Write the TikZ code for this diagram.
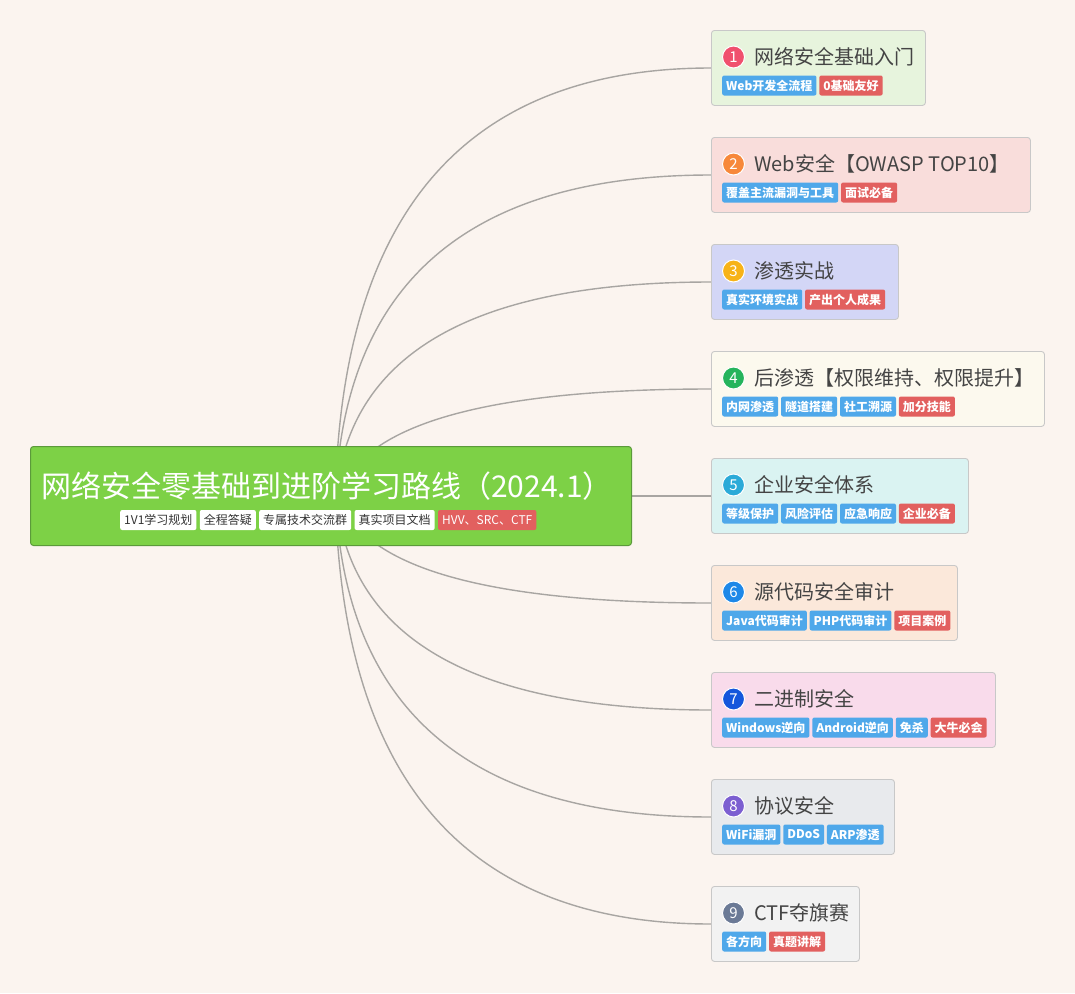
\documentclass[tikz,border=0pt]{standalone}
\usepackage{fontspec}
\setmainfont{Noto Sans CJK SC}
\usetikzlibrary{backgrounds,calc}
\pgfdeclarelayer{edges}
\pgfsetlayers{background,edges,main}
\definecolor{bgc}{HTML}{FBF4EF}
\definecolor{boxline}{HTML}{C8C8C8}
\definecolor{linec}{HTML}{A8A5A2}
\definecolor{tagblue}{HTML}{4FA8EA}
\definecolor{tagred}{HTML}{E2605F}
\definecolor{titlec}{HTML}{444444}
\definecolor{rootfill}{HTML}{7DD146}
\definecolor{rootline}{HTML}{5B9A3A}
\definecolor{fa}{HTML}{E7F4DD}\definecolor{ca}{HTML}{F0506E}
\definecolor{fb}{HTML}{F9DDDB}\definecolor{cb}{HTML}{F7883A}
\definecolor{fc}{HTML}{D3D6F6}\definecolor{cc}{HTML}{F7B318}
\definecolor{fd}{HTML}{FCF9EE}\definecolor{cd}{HTML}{25B45C}
\definecolor{fe}{HTML}{DAF3F2}\definecolor{ce}{HTML}{2BAAD8}
\definecolor{ff}{HTML}{FBE8DA}\definecolor{cf}{HTML}{1E88E8}
\definecolor{fg}{HTML}{F9DBEB}\definecolor{cg}{HTML}{1457DC}
\definecolor{fh}{HTML}{E8EAED}\definecolor{ch}{HTML}{7C5FD1}
\definecolor{fi}{HTML}{F2F2F2}\definecolor{ci}{HTML}{6B7A96}
\tikzset{
  box/.style={draw=boxline, rounded corners=3pt, line width=0.9pt, anchor=north west, inner sep=0, minimum height=75pt},
  num/.style={circle, draw=white, line width=1pt, minimum size=22pt, inner sep=0, text=white, font=\fontsize{15}{15}\selectfont},
  ttl/.style={anchor=west, text=titlec, font=\fontsize{20}{20}\selectfont, inner sep=0},
  btag/.style={fill=tagblue, text=white, rounded corners=2pt, anchor=west, inner xsep=4pt, inner ysep=0, minimum height=20pt, font=\bfseries\fontsize{12}{12}\selectfont},
  rtag/.style={btag, fill=tagred},
  wtag/.style={fill=white, text=black!80, rounded corners=2pt, anchor=west, inner xsep=4pt, inner ysep=0, minimum height=20pt, font=\fontsize{12}{12}\selectfont},
  link/.style={draw=linec, line width=1.4pt},
}
% #1 index, #2 top y, #3 width, #4 fill, #5 circle colour, #6 title, #7 start offset (pt)
\newcommand\mmbranch[7]{%
  \node[box, fill=#4, minimum width=#3pt] (b#1) at (711,#2) {};
  \node[num, fill=#5] (n#1) at ([xshift=22.5pt,yshift=-27pt]b#1.north west) {#1};
  \node[ttl] (h#1) at ([xshift=43pt,yshift=-27pt]b#1.north west) {#6};
  \coordinate (e#1) at ([yshift=-38pt]b#1.north west);
  \coordinate (s#1) at ([xshift=4pt,yshift=#7pt]root.center);
  \coordinate (q#1) at (s#1 |- e#1);
  \begin{pgfonlayer}{edges}
    \draw[link] (s#1) .. controls ($(s#1)!0.6667!(q#1)$) and ($(e#1)!0.6667!(q#1)$) .. (e#1);
  \end{pgfonlayer}
}
\begin{document}
\begin{tikzpicture}[x=1pt,y=-1pt]
\begin{pgfonlayer}{background}
  \fill[bgc] (0,0) rectangle (1075,993);
\end{pgfonlayer}
\useasboundingbox (0,0) rectangle (1075,993);

% root
\node[draw=rootline, fill=rootfill, rounded corners=3pt, line width=1pt, anchor=north west,
      minimum width=601pt, minimum height=99pt, inner sep=0] (root) at (30,446) {};
\node[text=white, font=\fontsize{30}{30}\selectfont, inner sep=0] (rtitle) at (327,486) {网络安全零基础到进阶学习路线（2024.1）};
\node[wtag] (r1) at (120,520) {1V1学习规划};
\node[wtag] (r2) at ([xshift=3pt]r1.east) {全程答疑};
\node[wtag] (r3) at ([xshift=3pt]r2.east) {专属技术交流群};
\node[wtag] (r4) at ([xshift=3pt]r3.east) {真实项目文档};
\node[wtag, fill=tagred, text=white] (r5) at ([xshift=3pt]r4.east) {HVV、SRC、CTF};

% branches
\mmbranch{1}{30}{214}{fa}{ca}{网络安全基础入门}{-25}
\node[btag] (t1a) at ([xshift=11pt,yshift=-55.5pt]b1.north west) {Web开发全流程};
\node[rtag] (t1b) at ([xshift=2.5pt]t1a.east) {0基础友好};

\mmbranch{2}{137}{319}{fb}{cb}{Web安全【OWASP TOP10】}{-25}
\node[btag] (t2a) at ([xshift=11pt,yshift=-55.5pt]b2.north west) {覆盖主流漏洞与工具};
\node[rtag] (t2b) at ([xshift=2.5pt]t2a.east) {面试必备};

\mmbranch{3}{244}{187}{fc}{cc}{渗透实战}{-25}
\node[btag] (t3a) at ([xshift=11pt,yshift=-55.5pt]b3.north west) {真实环境实战};
\node[rtag] (t3b) at ([xshift=2.5pt]t3a.east) {产出个人成果};

\mmbranch{4}{351}{333}{fd}{cd}{后渗透【权限维持、权限提升】}{-25}
\node[btag] (t4a) at ([xshift=11pt,yshift=-55.5pt]b4.north west) {内网渗透};
\node[btag] (t4b) at ([xshift=2.5pt]t4a.east) {隧道搭建};
\node[btag] (t4c) at ([xshift=2.5pt]t4b.east) {社工溯源};
\node[rtag] (t4d) at ([xshift=2.5pt]t4c.east) {加分技能};

\mmbranch{5}{458}{257}{fe}{ce}{企业安全体系}{0}
\node[btag] (t5a) at ([xshift=11pt,yshift=-55.5pt]b5.north west) {等级保护};
\node[btag] (t5b) at ([xshift=2.5pt]t5a.east) {风险评估};
\node[btag] (t5c) at ([xshift=2.5pt]t5b.east) {应急响应};
\node[rtag] (t5d) at ([xshift=2.5pt]t5c.east) {企业必备};

\mmbranch{6}{565}{246}{ff}{cf}{源代码安全审计}{25}
\node[btag] (t6a) at ([xshift=11pt,yshift=-55.5pt]b6.north west) {Java代码审计};
\node[btag] (t6b) at ([xshift=2.5pt]t6a.east) {PHP代码审计};
\node[rtag] (t6c) at ([xshift=2.5pt]t6b.east) {项目案例};

\mmbranch{7}{672}{284}{fg}{cg}{二进制安全}{25}
\node[btag] (t7a) at ([xshift=11pt,yshift=-55.5pt]b7.north west) {Windows逆向};
\node[btag] (t7b) at ([xshift=2.5pt]t7a.east) {Android逆向};
\node[btag] (t7c) at ([xshift=2.5pt]t7b.east) {免杀};
\node[rtag] (t7d) at ([xshift=2.5pt]t7c.east) {大牛必会};

\mmbranch{8}{779}{183}{fh}{ch}{协议安全}{25}
\node[btag] (t8a) at ([xshift=11pt,yshift=-55.5pt]b8.north west) {WiFi漏洞};
\node[btag] (t8b) at ([xshift=2.5pt]t8a.east) {DDoS};
\node[btag] (t8c) at ([xshift=2.5pt]t8b.east) {ARP渗透};

\mmbranch{9}{886}{148}{fi}{ci}{CTF夺旗赛}{25}
\node[btag] (t9a) at ([xshift=11pt,yshift=-55.5pt]b9.north west) {各方向};
\node[rtag] (t9b) at ([xshift=2.5pt]t9a.east) {真题讲解};
\end{tikzpicture}
\end{document}
